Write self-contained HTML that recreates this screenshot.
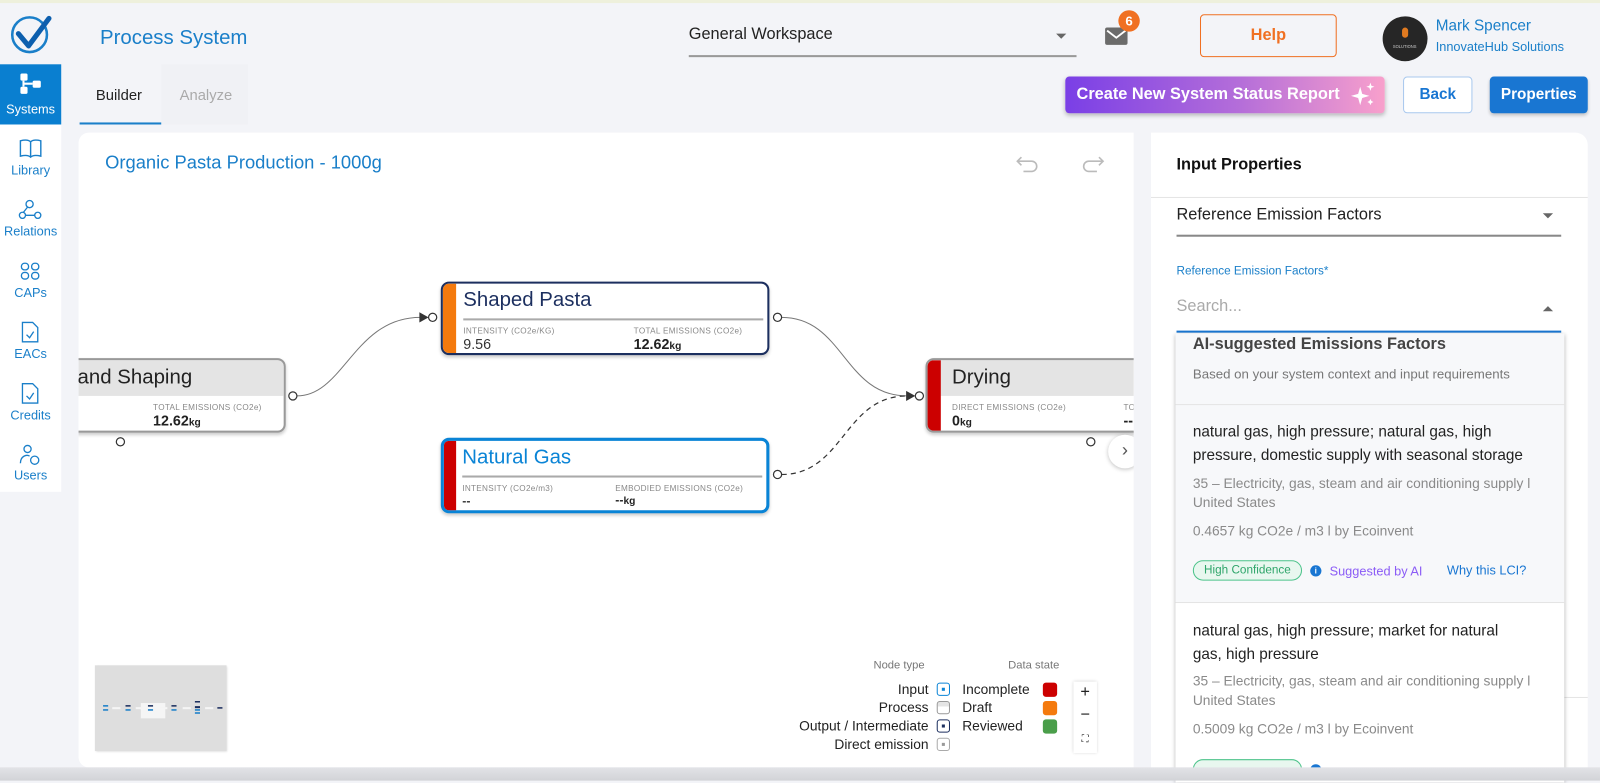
<!DOCTYPE html>
<html><head><meta charset="utf-8"><style>
*{box-sizing:border-box;margin:0;padding:0}
html,body{width:1600px;height:781px;overflow:hidden;background:#f3f4f8;font-family:"Liberation Sans",Arial,sans-serif}
#w{position:absolute;left:0;top:0;width:1568px;height:765px;transform:scale(1.0204);transform-origin:0 0}
.a{position:absolute}
.t{position:absolute;white-space:nowrap}
.side .it{position:absolute;left:0;width:60px;text-align:center;color:#1a7fc9;font-size:12.5px}
.node{position:absolute;border-radius:8px;overflow:hidden;background:#fff}
.lbl{font-size:8px;color:#888;letter-spacing:.3px}
.big{font-size:14px;font-weight:bold;color:#222}
.sq{position:absolute;width:13px;height:13px;border-radius:3px}
.g{color:#8a8a8a;font-size:13.5px}
</style></head><body><div id="w">
<div class="a" style="left:0;top:0;width:1568px;height:3px;background:#eef0dc"></div>
<svg class="a" style="top:12px;left:8px" width="46" height="44"><circle cx="21" cy="22" r="17" fill="none" stroke="#1a7fc9" stroke-width="2.5"/><path d="M10 21 L20 33 L40 6" fill="none" stroke="#0d5fae" stroke-width="5" stroke-linecap="round" stroke-linejoin="round"/></svg>
<div class="t" style="left:98px;top:26px;font-size:20px;color:#1a7fc9">Process System</div>
<div class="t" style="left:675px;top:25px;font-size:16px;color:#222">General Workspace</div>
<div class="a" style="left:675px;top:54px;width:380px;height:2px;background:#999"></div>
<div class="a" style="left:1035px;top:33px;border:5px solid transparent;border-top:5px solid #666"></div>
<div class="a" style="left:1083px;top:27px;width:22px;height:17px;background:#6b6b6b;border-radius:2px"></div>
<svg class="a" style="left:1083px;top:27px" width="22" height="17"><path d="M2 3 L11 10 L20 3" stroke="#fff" stroke-width="1.8" fill="none"/></svg>
<div class="a" style="left:1096px;top:10px;width:21px;height:21px;border-radius:50%;background:#f07022;color:#fff;font-size:13px;font-weight:bold;text-align:center;line-height:21px">6</div>
<div class="a" style="left:1176px;top:14px;width:134px;height:42px;border:1px solid #f07022;border-radius:4px;color:#f07022;font-weight:bold;font-size:16px;text-align:center;line-height:40px">Help</div>
<div class="a" style="left:1355px;top:16px;width:44px;height:44px;border-radius:50%;background:#262626"></div>
<div class="a" style="left:1374px;top:27px;width:6px;height:10px;border-radius:3px;background:#e07a20"></div>
<div class="t" style="left:1365px;top:43px;font-size:4px;color:#ccc">SOLUTIONS</div>
<div class="t" style="left:1407px;top:17px;font-size:15px;color:#1a7fc9">Mark Spencer</div>
<div class="t" style="left:1407px;top:39px;font-size:12.5px;color:#1a7fc9">InnovateHub Solutions</div>
<div class="a side" style="left:0;top:63px;width:60px;height:419px;background:#fff">
<div class="a" style="left:0;top:0;width:60px;height:59px;background:#0a7fd0"></div>
<svg class="a" style="left:19px;top:8px" width="22" height="22"><rect x="1" y="1" width="7" height="7" rx="1.5" fill="#fff"/><rect x="1" y="14" width="7" height="7" rx="1.5" fill="#fff"/><rect x="13" y="8" width="8" height="7" rx="1.5" fill="#fff"/><path d="M4 8 V14 M4 11 H13" stroke="#fff" stroke-width="2"/></svg>
<div class="it" style="top:37px;color:#fff">Systems</div>
<svg class="a" style="left:19px;top:73px" width="22" height="20"><path d="M1 2 C5 1 9 1 11 3 C13 1 17 1 21 2 V17 C17 16 13 16 11 18 C9 16 5 16 1 17 Z M11 3 V18" fill="none" stroke="#1a7fc9" stroke-width="1.4"/></svg>
<div class="it" style="top:97px">Library</div>
<svg class="a" style="left:18px;top:132px" width="24" height="22"><circle cx="11" cy="5" r="3.5" fill="none" stroke="#1a7fc9" stroke-width="1.3"/><circle cx="4" cy="16" r="3" fill="none" stroke="#1a7fc9" stroke-width="1.3"/><circle cx="19" cy="16" r="3" fill="none" stroke="#1a7fc9" stroke-width="1.3"/><path d="M9 8 L5 13 M7 16 H16" stroke="#1a7fc9" stroke-width="1.3"/></svg>
<div class="it" style="top:157px">Relations</div>
<svg class="a" style="left:20px;top:194px" width="20" height="18"><rect x="1" y="1" width="7" height="6.5" rx="3" fill="none" stroke="#1a7fc9" stroke-width="1.3"/><rect x="11" y="1" width="7" height="6.5" rx="3" fill="none" stroke="#1a7fc9" stroke-width="1.3"/><rect x="1" y="10" width="7" height="6.5" rx="3" fill="none" stroke="#1a7fc9" stroke-width="1.3"/><rect x="11" y="10" width="7" height="6.5" rx="3" fill="none" stroke="#1a7fc9" stroke-width="1.3"/></svg>
<div class="it" style="top:217px">CAPs</div>
<svg class="a" style="left:21px;top:252px" width="18" height="22"><path d="M1 1 H11 L16 6 V20 H1 Z" fill="none" stroke="#1a7fc9" stroke-width="1.3"/><path d="M5 13 L8 16 L12 10" fill="none" stroke="#1a7fc9" stroke-width="1.3"/></svg>
<div class="it" style="top:277px">EACs</div>
<svg class="a" style="left:21px;top:312px" width="18" height="22"><path d="M1 1 H11 L16 6 V20 H1 Z" fill="none" stroke="#1a7fc9" stroke-width="1.3"/><path d="M5 13 L8 16 L12 10" fill="none" stroke="#1a7fc9" stroke-width="1.3"/></svg>
<div class="it" style="top:337px">Credits</div>
<svg class="a" style="left:18px;top:372px" width="24" height="22"><circle cx="9" cy="5" r="3.5" fill="none" stroke="#1a7fc9" stroke-width="1.3"/><path d="M2 19 C2 12 8 10 11 12" fill="none" stroke="#1a7fc9" stroke-width="1.3"/><circle cx="16" cy="16" r="4" fill="none" stroke="#1a7fc9" stroke-width="1.3"/></svg>
<div class="it" style="top:396px">Users</div>
</div>
<div class="a" style="left:158px;top:63px;width:85px;height:59px;background:#f0f1f5"></div>
<div class="t" style="left:94px;top:86px;font-size:14.5px;color:#222">Builder</div>
<div class="t" style="left:176px;top:86px;font-size:14.5px;color:#aaa">Analyze</div>
<div class="a" style="left:78px;top:120px;width:80px;height:2px;background:#1a7fc9"></div>
<div class="a" style="left:1044px;top:75px;width:313px;height:36px;border-radius:4px;background:linear-gradient(90deg,#7a3fe6,#b56ed9 55%,#f8a0cc);box-shadow:0 2px 4px rgba(0,0,0,.25);color:#fff;font-weight:bold;font-size:16px;line-height:36px;padding-left:11px">Create New System Status Report</div>
<svg class="a" style="left:1323px;top:80px" width="26" height="26"><path d="M10 5 L12 12 L19 14 L12 16 L10 23 L8 16 L1 14 L8 12 Z" fill="#fff"/><path d="M20 1 L21 4 L24 5 L21 6 L20 9 L19 6 L16 5 L19 4 Z" fill="#fff"/><path d="M20 17 L21 19 L23 20 L21 21 L20 23 L19 21 L17 20 L19 19 Z" fill="#fff"/></svg>
<div class="a" style="left:1375px;top:75px;width:68px;height:36px;border:1px solid #a8c8ee;border-radius:4px;background:#fff;color:#1976d2;font-weight:bold;font-size:15px;text-align:center;line-height:34px">Back</div>
<div class="a" style="left:1460px;top:75px;width:96px;height:36px;border-radius:4px;background:#1976d2;color:#fff;font-weight:bold;font-size:15px;text-align:center;line-height:36px;box-shadow:0 2px 3px rgba(0,0,0,.2)">Properties</div>
<div class="a" style="left:77px;top:130px;width:1034px;height:622px;background:#fff;border-radius:10px 0 0 10px;overflow:hidden">
<div class="t" style="left:26px;top:19px;font-size:18px;color:#1a7fc9">Organic Pasta Production - 1000g</div>
<svg class="a" style="left:918px;top:18px" width="100" height="24"><path d="M6 6 L2 10 L6 14 M2 10 H16 A5 5 0 0 1 16 20 H8" fill="none" stroke="#bbb" stroke-width="1.6"/><path d="M82 6 L86 10 L82 14 M86 10 H72 A5 5 0 0 0 72 20 H80" fill="none" stroke="#bbb" stroke-width="1.6"/></svg>
<svg class="a" style="left:0;top:0" width="1034" height="622">
<path d="M214 258 C260 258 270 181 335 181" fill="none" stroke="#777" stroke-width="1"/>
<path d="M689 181 C750 181 750 258 812 258" fill="none" stroke="#777" stroke-width="1"/>
<path d="M689 335 C750 335 750 258 812 258" fill="none" stroke="#333" stroke-width="1.2" stroke-dasharray="5 4"/>
<path d="M334 176 L343 181 L334 186 Z" fill="#333"/>
<path d="M811 253 L820 258 L811 263 Z" fill="#333"/>
<g fill="#fff" stroke="#333" stroke-width="1.2">
<circle cx="210" cy="258" r="4"/><circle cx="41" cy="303" r="4"/><circle cx="347" cy="181" r="4"/><circle cx="685" cy="181" r="4"/><circle cx="685" cy="335" r="4"/><circle cx="824" cy="258" r="4"/><circle cx="992" cy="303" r="4"/></g>
</svg>
<div class="node" style="left:-30px;top:221px;width:233px;height:73px;border:2px solid #999;box-shadow:0 2px 3px rgba(0,0,0,.2)">
<div class="a" style="left:0;top:0;width:233px;height:35px;background:#e4e4e4"></div>
<div class="t" style="left:27px;top:6px;font-size:20px;color:#222">and Shaping</div>
<div class="t lbl" style="left:14px;top:42px">2e)</div>
<div class="t lbl" style="left:101px;top:42px">TOTAL EMISSIONS (CO2e)</div>
<div class="t big" style="left:101px;top:51px">12.62<span style="font-size:10px">kg</span></div></div>
<div class="node" style="left:355px;top:146px;width:322px;height:72px;border:2px solid #1c2f5f;box-shadow:0 2px 3px rgba(0,0,0,.2)">
<div class="a" style="left:0;top:0;width:13px;height:72px;background:#f47a0e"></div>
<div class="t" style="left:20px;top:5px;font-size:20px;color:#1c2f5f">Shaped Pasta</div>
<div class="a" style="left:20px;top:34px;width:294px;height:2px;background:#aaa"></div>
<div class="t lbl" style="left:20px;top:42px">INTENSITY (CO2e/KG)</div>
<div class="t" style="left:20px;top:51px;font-size:14px;color:#333">9.56</div>
<div class="t lbl" style="left:187px;top:42px">TOTAL EMISSIONS (CO2e)</div>
<div class="t big" style="left:187px;top:51px">12.62<span style="font-size:10px">kg</span></div></div>
<div class="node" style="left:355px;top:299px;width:322px;height:74px;border:3px solid #0a84d6;box-shadow:0 2px 3px rgba(0,0,0,.2)">
<div class="a" style="left:0;top:0;width:12px;height:74px;background:#cc0000"></div>
<div class="t" style="left:18px;top:5px;font-size:20px;color:#0a84d6">Natural Gas</div>
<div class="a" style="left:18px;top:34px;width:294px;height:2px;background:#aaa"></div>
<div class="t lbl" style="left:18px;top:42px">INTENSITY (CO2e/m3)</div>
<div class="t" style="left:18px;top:52px;font-size:12px;font-weight:bold;color:#333">--</div>
<div class="t lbl" style="left:168px;top:42px">EMBODIED EMISSIONS (CO2e)</div>
<div class="t big" style="left:168px;top:51px;font-size:12px">--<span style="font-size:10px">kg</span></div></div>
<div class="node" style="left:830px;top:221px;width:240px;height:73px;border:2px solid #999;box-shadow:0 2px 3px rgba(0,0,0,.2)">
<div class="a" style="left:0;top:0;width:240px;height:35px;background:#e4e4e4"></div>
<div class="a" style="left:0;top:0;width:13px;height:73px;background:#cc0000"></div>
<div class="t" style="left:24px;top:6px;font-size:20px;color:#222">Drying</div>
<div class="t lbl" style="left:24px;top:42px">DIRECT EMISSIONS (CO2e)</div>
<div class="t big" style="left:24px;top:51px">0<span style="font-size:10px">kg</span></div>
<div class="t lbl" style="left:192px;top:42px">TO</div>
<div class="t big" style="left:192px;top:51px">--</div></div>
<div class="a" style="left:1009px;top:296px;width:33px;height:33px;border-radius:50%;background:#fff;box-shadow:0 1px 4px rgba(0,0,0,.25);color:#555;font-size:18px;text-align:center;line-height:31px">&#8250;</div>
<div class="a" style="left:16px;top:522px;width:129px;height:84px;background:#dedede;box-shadow:1px 1px 2px rgba(0,0,0,.15)">
<div class="a" style="left:45px;top:37px;width:24px;height:15px;background:#f5f5f5"></div>
<svg class="a" style="left:0;top:0" width="129" height="84"><g fill="#1a7fc9"><rect x="8" y="39" width="5" height="1.5"/><rect x="8" y="43" width="5" height="1.5"/><rect x="30" y="43" width="5" height="1.5"/><rect x="52" y="43" width="5" height="1.5"/><rect x="75" y="43" width="5" height="1.5"/><rect x="98" y="43" width="5" height="1.5"/><rect x="98" y="46" width="5" height="1.5"/></g><g fill="#1c2f5f"><rect x="30" y="39" width="5" height="1.5"/><rect x="52" y="39" width="5" height="1.5"/><rect x="75" y="39" width="5" height="1.5"/><rect x="98" y="35" width="5" height="1.5"/><rect x="98" y="40" width="5" height="2"/><rect x="120" y="41" width="5" height="1.5"/></g><g fill="#f5f5f5"><rect x="17" y="41" width="8" height="2"/><rect x="40" y="41" width="8" height="2"/><rect x="63" y="41" width="8" height="2"/><rect x="86" y="41" width="8" height="2"/><rect x="108" y="41" width="8" height="2"/></g></svg></div>
<div class="t" style="left:779px;top:516px;font-size:11px;color:#777">Node type</div>
<div class="t" style="left:911px;top:516px;font-size:11px;color:#777">Data state</div>
<div class="a" style="left:600px;top:537px;width:233px;text-align:right;font-size:13.5px;color:#222;line-height:18px">Input<br>Process<br>Output / Intermediate<br>Direct emission</div>
<div class="sq" style="left:841px;top:539px;border:1.5px solid #0a84d6"><div class="a" style="left:4px;top:4px;width:2.5px;height:2.5px;background:#0a84d6"></div></div>
<div class="sq" style="left:841px;top:557px;border:1.5px solid #999;background:linear-gradient(#e4e4e4 40%,#fff 40%)"></div>
<div class="sq" style="left:841px;top:575px;border:1.5px solid #1c2f5f"><div class="a" style="left:4px;top:4px;width:2.5px;height:2.5px;background:#1c2f5f"></div></div>
<div class="sq" style="left:841px;top:593px;border:1.5px solid #aaa"><div class="a" style="left:4px;top:4px;width:2.5px;height:2.5px;background:#999"></div></div>
<div class="a" style="left:866px;top:537px;font-size:13.5px;color:#222;line-height:18px">Incomplete<br>Draft<br>Reviewed</div>
<div class="sq" style="left:945px;top:539px;width:14px;height:14px;background:#cc0000"></div>
<div class="sq" style="left:945px;top:557px;width:14px;height:14px;background:#f47a0e"></div>
<div class="sq" style="left:945px;top:575px;width:14px;height:14px;background:#4a9e4a"></div>
<div class="a" style="left:975px;top:538px;width:23px;height:70px;background:#fff;box-shadow:0 0 3px rgba(0,0,0,.2);text-align:center;font-size:16px;line-height:22px;color:#222">+<br>−<br><span style="font-size:10px">⛶</span></div>
</div>
<div class="a" style="left:1128px;top:130px;width:428px;height:622px;background:#fff;border-radius:0 12px 0 0">
<div class="t" style="left:25px;top:23px;font-size:16px;font-weight:bold;color:#111">Input Properties</div>
<div class="a" style="left:0;top:63px;width:428px;height:1px;background:#e4e4e4"></div>
<div class="t" style="left:25px;top:72px;font-size:16px;color:#222">Reference Emission Factors</div>
<div class="a" style="left:384px;top:79px;border:5px solid transparent;border-top:5px solid #666"></div>
<div class="a" style="left:25px;top:100px;width:377px;height:2px;background:#888"></div>
<div class="t" style="left:25px;top:130px;font-size:11.5px;color:#1a7fc9">Reference Emission Factors*</div>
<div class="t" style="left:25px;top:162px;font-size:16px;color:#aaa">Search...</div>
<div class="a" style="left:384px;top:165px;border:5px solid transparent;border-bottom:5px solid #666"></div>
<div class="a" style="left:25px;top:194px;width:377px;height:2px;background:#1976d2"></div>
<div class="a" style="left:405px;top:553px;width:23px;height:1px;background:#e4e4e4"></div>
</div>
<div class="a" style="left:1152px;top:327px;width:381px;height:440px;background:#fff;box-shadow:0 1px 4px rgba(0,0,0,.3);overflow:hidden">
<div class="a" style="left:0;top:0;width:381px;height:263px;background:#f7f8fa"></div>
<div class="t" style="left:17px;top:2px;font-size:16px;font-weight:bold;color:#444">AI-suggested Emissions Factors</div>
<div class="t" style="left:17px;top:32px;font-size:13px;color:#777">Based on your system context and input requirements</div>
<div class="a" style="left:0;top:69px;width:381px;height:1px;background:#e4e4e4"></div>
<div class="a" style="left:17px;top:85px;font-size:15px;color:#222;line-height:23px">natural gas, high pressure; natural gas, high<br>pressure, domestic supply with seasonal storage</div>
<div class="a g" style="left:17px;top:137px;line-height:19px">35 – Electricity, gas, steam and air conditioning supply l<br>United States</div>
<div class="t g" style="left:17px;top:186px">0.4657 kg CO2e / m3 l by Ecoinvent</div>
<div class="a" style="left:17px;top:222px;width:107px;height:20px;border:1px solid #4cc38a;border-radius:10px;background:#e8f7ef;color:#2ea56a;font-size:11.5px;text-align:center;line-height:18px">High Confidence</div>
<div class="a" style="left:132px;top:227px;width:11px;height:11px;border-radius:50%;background:#1976d2;color:#fff;font-size:8px;text-align:center;line-height:11px;font-weight:bold">i</div>
<div class="t" style="left:151px;top:226px;font-size:12.5px;color:#8b5cf6">Suggested by AI</div>
<div class="t" style="left:266px;top:225px;font-size:12.5px;color:#1976d2">Why this LCI?</div>
<div class="a" style="left:0;top:263px;width:381px;height:1px;background:#e4e4e4"></div>
<div class="a" style="left:17px;top:280px;font-size:15px;color:#222;line-height:23px">natural gas, high pressure; market for natural<br>gas, high pressure</div>
<div class="a g" style="left:17px;top:331px;line-height:19px">35 – Electricity, gas, steam and air conditioning supply l<br>United States</div>
<div class="t g" style="left:17px;top:380px">0.5009 kg CO2e / m3 l by Ecoinvent</div>
<div class="a" style="left:17px;top:417px;width:107px;height:20px;border:1px solid #4cc38a;border-radius:10px;background:#e8f7ef"></div>
<div class="a" style="left:132px;top:422px;width:11px;height:11px;border-radius:50%;background:#1976d2"></div>
</div>
<div class="a" style="left:0;top:752px;width:1568px;height:13px;background:linear-gradient(#e2e3e7,#d2d3d7)"></div>
</div></body></html>
